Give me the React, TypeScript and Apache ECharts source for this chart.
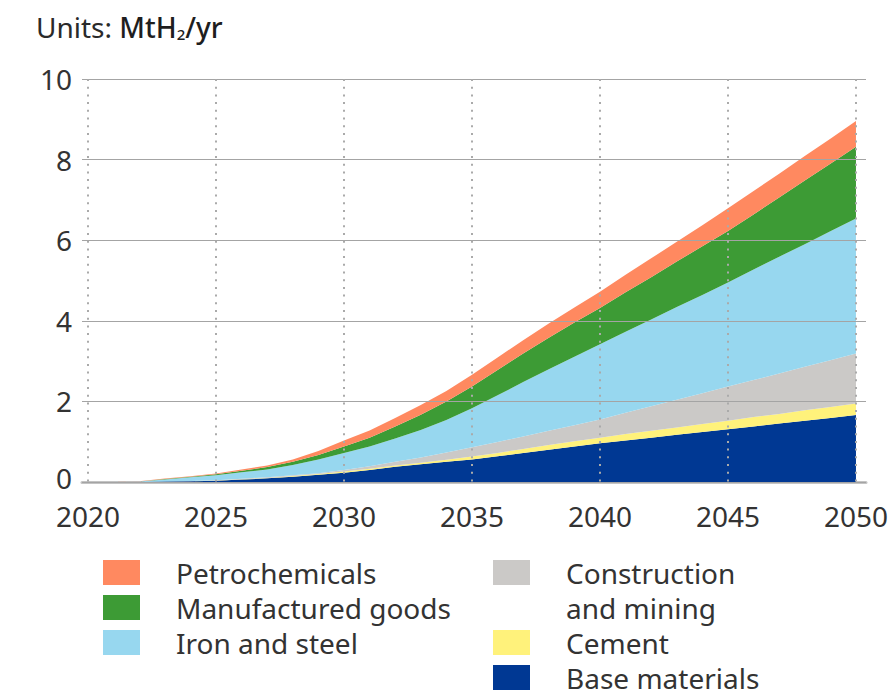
import React, { useEffect, useRef } from 'react';
import * as echarts from 'echarts';

const years = [
  '2020', '2021', '2022', '2023', '2024', '2025', '2026', '2027', '2028', '2029', '2030',
  '2031', '2032', '2033', '2034', '2035', '2036', '2037', '2038', '2039', '2040',
  '2041', '2042', '2043', '2044', '2045', '2046', '2047', '2048', '2049', '2050',
];

const baseMaterials = [
  0, 0, 0, 0.01, 0.02, 0.03, 0.06, 0.09, 0.13, 0.18, 0.23,
  0.30, 0.38, 0.44, 0.50, 0.56, 0.64, 0.72, 0.80, 0.88, 0.96,
  1.03, 1.10, 1.17, 1.24, 1.31, 1.38, 1.45, 1.52, 1.59, 1.66,
];
const cement = [
  0, 0, 0, 0, 0, 0.005, 0.01, 0.01, 0.02, 0.02, 0.03,
  0.03, 0.03, 0.04, 0.05, 0.07, 0.08, 0.10, 0.12, 0.13, 0.14,
  0.16, 0.17, 0.18, 0.20, 0.21, 0.23, 0.24, 0.26, 0.27, 0.29,
];
const construction = [
  0, 0, 0, 0.005, 0.005, 0.01, 0.01, 0.02, 0.02, 0.02, 0.04,
  0.06, 0.09, 0.13, 0.18, 0.23, 0.27, 0.31, 0.35, 0.40, 0.45,
  0.53, 0.61, 0.69, 0.76, 0.85, 0.92, 1.00, 1.08, 1.16, 1.24,
];
const ironSteel = [
  0, 0, 0.01, 0.05, 0.09, 0.125, 0.16, 0.19, 0.25, 0.34, 0.42,
  0.49, 0.58, 0.68, 0.81, 0.97, 1.16, 1.35, 1.53, 1.70, 1.87,
  2.01, 2.15, 2.30, 2.44, 2.58, 2.74, 2.90, 3.04, 3.20, 3.35,
];
const manufactured = [
  0, 0, 0.005, 0.01, 0.015, 0.02, 0.04, 0.06, 0.08, 0.11, 0.16,
  0.22, 0.30, 0.38, 0.46, 0.54, 0.63, 0.71, 0.78, 0.85, 0.90,
  0.98, 1.05, 1.13, 1.21, 1.28, 1.37, 1.47, 1.58, 1.68, 1.78,
];
const petrochemicals = [
  0, 0, 0.005, 0.01, 0.015, 0.02, 0.03, 0.04, 0.06, 0.10, 0.15,
  0.18, 0.21, 0.24, 0.26, 0.29, 0.31, 0.33, 0.35, 0.37, 0.40,
  0.43, 0.47, 0.49, 0.52, 0.56, 0.58, 0.59, 0.61, 0.62, 0.64,
];

const seriesNames = [
  'Base materials',
  'Cement',
  'Construction and mining',
  'Iron and steel',
  'Manufactured goods',
  'Petrochemicals',
];
const seriesValues = [baseMaterials, cement, construction, ironSteel, manufactured, petrochemicals];
const seriesColors = ['#003893', '#FFF27B', '#CBC9C7', '#97D7EF', '#3D9B35', '#FF8960'];

const leftLegend = ['Petrochemicals', 'Manufactured goods', 'Iron and steel'];
const rightLegendTop = ['Construction and mining'];
const rightLegendBottom = ['Cement', 'Base materials'];

const FONT = "'Noto Sans', sans-serif";
const TEXT = '#333333';

export default function App() {
  const ref = useRef<HTMLDivElement>(null);

  useEffect(() => {
    if (!ref.current) return;
    const chart = echarts.init(ref.current, null, { renderer: 'svg' });

    const legendCommon = {
      orient: 'vertical',
      itemWidth: 37,
      itemHeight: 25,
      itemGap: 7,
      padding: 0,
      icon: 'rect',
      selectedMode: false,
      textStyle: {
        fontFamily: FONT,
        fontSize: 28,
        lineHeight: 28,
        color: TEXT,
        padding: [0, 0, 0, 31],
      },
    };

    const option: any = {
      animation: false,
      color: seriesColors,
      title: {
        text: '{a|Units: }{b|MtH}{s|2}{b|/yr}',
        left: 36,
        top: 13,
        padding: 0,
        textStyle: {
          rich: {
            a: { fontFamily: FONT, fontSize: 28, lineHeight: 28, color: '#2a2a2a', fontWeight: 400 },
            b: { fontFamily: FONT, fontSize: 28, lineHeight: 28, color: '#1e1e1e', fontWeight: 500 },
            s: { fontFamily: FONT, fontSize: 15, lineHeight: 14, color: '#1e1e1e', fontWeight: 500, verticalAlign: 'bottom' },
          },
        },
      },
      legend: [
        { ...legendCommon, left: 103, top: 558.5, data: leftLegend },
        {
          ...legendCommon,
          left: 493,
          top: 520,
          textStyle: { ...legendCommon.textStyle, lineHeight: 35 },
          data: rightLegendTop,
          formatter: () => '\nConstruction\nand mining',
        },
        { ...legendCommon, left: 493, top: 628.5, itemGap: 7, data: rightLegendBottom },
      ],
      grid: [
        { left: 82, right: 25, top: 79, bottom: 213 },
        { left: 88, right: 32, top: 79, bottom: 213 },
      ],
      xAxis: [
        {
          gridIndex: 0,
          type: 'value',
          min: 0,
          max: 1,
          axisLine: { show: true, lineStyle: { color: '#c4c4c4', width: 3 } },
          axisTick: { show: false },
          axisLabel: { show: false },
          splitLine: { show: false },
        },
        {
          gridIndex: 1,
          type: 'category',
          data: years,
          boundaryGap: false,
          z: 5,
          axisLine: { show: false },
          axisTick: { show: false, interval: 4 },
          axisLabel: {
            interval: 4,
            margin: 20,
            fontFamily: FONT,
            fontSize: 28,
            lineHeight: 28,
            color: TEXT,
          },
          splitLine: {
            show: true,
            interval: 4,
            lineStyle: { color: '#aaaaaa', width: 2, type: [2, 5.7] },
          },
        },
      ],
      yAxis: [
        {
          gridIndex: 0,
          type: 'value',
          min: 0,
          max: 10,
          interval: 2,
          z: 5,
          axisLine: { show: false },
          axisTick: { show: false },
          axisLabel: {
            margin: 10,
            fontFamily: FONT,
            fontSize: 28,
            lineHeight: 28,
            color: TEXT,
            formatter: (v: number) => (v === 0 ? '{z|0}' : String(v)),
            rich: {
              z: { fontFamily: FONT, fontSize: 28, lineHeight: 28, color: TEXT, padding: [0, 0, 8, 0] },
            },
          },
          splitLine: { show: true, lineStyle: { color: '#a4a4a4', width: 1.2 } },
        },
        {
          gridIndex: 1,
          type: 'value',
          min: 0,
          max: 10,
          show: false,
          splitLine: { show: false },
        },
      ],
      series: seriesNames.map((name, i) => ({
        name,
        type: 'line',
        xAxisIndex: 1,
        yAxisIndex: 1,
        stack: 'total',
        symbol: 'none',
        showSymbol: false,
        lineStyle: { width: 0, color: seriesColors[i] },
        itemStyle: { color: seriesColors[i] },
        areaStyle: { color: seriesColors[i], opacity: 1 },
        data: seriesValues[i],
      })),
    };

    chart.setOption(option);
    return () => chart.dispose();
  }, []);

  return (
    <div
      ref={ref}
      style={{ position: 'fixed', left: 0, top: 0, width: 891, height: 695, background: '#ffffff' }}
    />
  );
}
